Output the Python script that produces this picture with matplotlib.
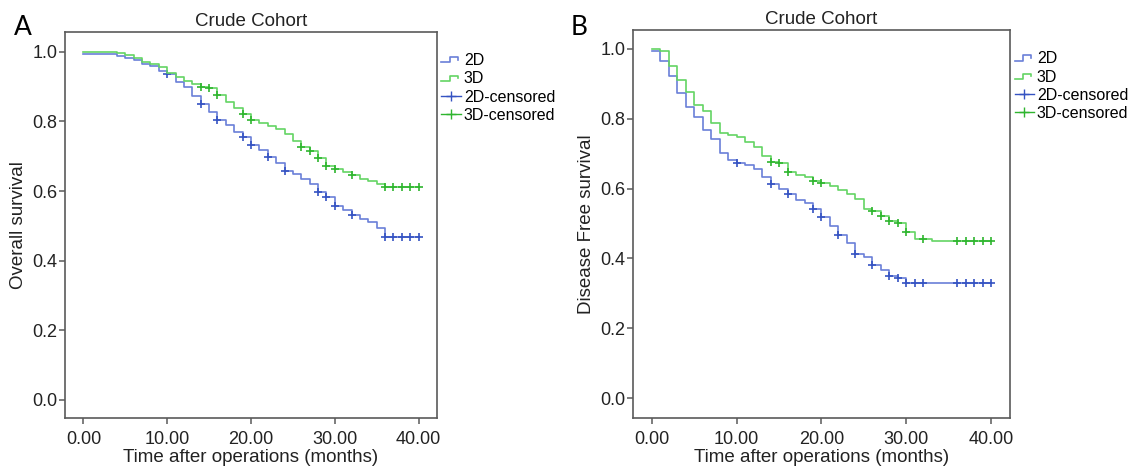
import numpy as np
import matplotlib
matplotlib.use("Agg")
import matplotlib.pyplot as plt
from matplotlib.lines import Line2D
from matplotlib.legend_handler import HandlerBase

plt.rcParams['font.family'] = ['Liberation Sans', 'DejaVu Sans']

# Panel A - overall survival, crude cohort
a_2d_time = [0, 4, 5, 6, 7, 8, 9, 10, 11, 12, 13, 14, 15, 16, 17, 18, 19, 20,
             21, 22, 23, 24, 25, 26, 27, 28, 29, 30, 31, 32, 33, 34, 35, 36]
a_2d_surv = [0.993, 0.988, 0.983, 0.976, 0.966, 0.959, 0.945, 0.935, 0.914, 0.898,
             0.872, 0.851, 0.827, 0.805, 0.791, 0.770, 0.755, 0.733, 0.717, 0.697,
             0.680, 0.659, 0.648, 0.635, 0.620, 0.597, 0.583, 0.556, 0.545, 0.530,
             0.520, 0.510, 0.495, 0.469]
a_2d_cens = [10, 14, 16, 19, 20, 22, 24, 28, 29, 30, 32, 36, 37, 38, 39, 40]

a_3d_time = [0, 4, 5, 6, 7, 8, 9, 10, 11, 12, 13, 14, 15, 16, 17, 18, 19, 20,
             21, 22, 23, 24, 25, 26, 27, 28, 29, 30, 31, 32, 33, 34, 35, 36]
a_3d_surv = [1.000, 0.996, 0.991, 0.981, 0.970, 0.966, 0.956, 0.940, 0.927, 0.915,
             0.907, 0.900, 0.895, 0.876, 0.857, 0.840, 0.822, 0.805, 0.795, 0.787,
             0.777, 0.764, 0.744, 0.728, 0.716, 0.694, 0.673, 0.664, 0.655, 0.645,
             0.636, 0.630, 0.619, 0.611]
a_3d_cens = [14, 15, 16, 19, 20, 26, 27, 28, 29, 30, 32, 36, 37, 38, 39, 40]

# Panel B - disease free survival, crude cohort
b_2d_time = [0, 1, 2, 3, 4, 5, 6, 7, 8, 9, 10, 11, 12, 13, 14, 15, 16, 17, 18,
             19, 20, 21, 22, 23, 24, 25, 26, 27, 28, 29, 30]
b_2d_surv = [0.993, 0.964, 0.921, 0.874, 0.833, 0.806, 0.768, 0.742, 0.703, 0.683,
             0.672, 0.667, 0.657, 0.632, 0.614, 0.600, 0.583, 0.566, 0.559, 0.541,
             0.518, 0.493, 0.466, 0.443, 0.414, 0.404, 0.380, 0.368, 0.351, 0.343,
             0.329]
b_2d_cens = [10, 14, 16, 19, 20, 22, 24, 26, 28, 29, 30, 31, 32, 36, 37, 38, 39, 40]

b_3d_time = [0, 1, 2, 3, 4, 5, 6, 7, 8, 9, 10, 11, 12, 13, 14, 15, 16, 17, 18,
             19, 20, 21, 22, 23, 24, 25, 26, 27, 28, 29, 30, 31, 33]
b_3d_surv = [1.000, 0.993, 0.951, 0.911, 0.876, 0.840, 0.822, 0.788, 0.760, 0.752,
             0.748, 0.734, 0.720, 0.693, 0.677, 0.672, 0.646, 0.640, 0.633, 0.622,
             0.617, 0.607, 0.595, 0.584, 0.569, 0.542, 0.535, 0.522, 0.507, 0.500,
             0.476, 0.455, 0.451]
b_3d_cens = [14, 15, 16, 19, 20, 26, 27, 28, 29, 30, 32, 36, 37, 38, 39, 40]

x_ticks = [0, 10, 20, 30, 40]
x_ticklabels = ["0.00", "10.00", "20.00", "30.00", "40.00"]
y_ticks = [0.0, 0.2, 0.4, 0.6, 0.8, 1.0]
end_time = 40

blue_line = '#6a7fd8'
blue_mark = '#3553c2'
green_line = '#64d464'
green_mark = '#2fb52f'
frame_col = '#5a5a5a'


# legend symbol: small step line like the SPSS one
class StepHandler(HandlerBase):
    def create_artists(self, legend, orig_handle, xdescent, ydescent,
                       width, height, fontsize, trans):
        xs = np.array([0.0, 0.45, 0.45, 0.85, 0.85]) * width - xdescent
        ys = np.array([0.25, 0.25, 0.7, 0.7, 0.45]) * height - ydescent
        ln = Line2D(xs, ys, color=orig_handle.get_color(), lw=1.2)
        ln.set_transform(trans)
        return [ln]


def draw_km(ax, times, surv, cens, lcol, mcol):
    t = list(times) + [end_time]
    s = list(surv) + [surv[-1]]
    ax.step(t, s, where='post', color=lcol, lw=1.2)
    idx = np.searchsorted(times, cens, side='right') - 1
    cs = [surv[i] for i in idx]
    ax.plot(cens, cs, '+', color=mcol, ms=5.5, mew=1.2)


def setup_axes(ax, ylabel, ylim):
    ax.set_xlim(-2.2, 42.2)
    ax.set_ylim(*ylim)
    ax.set_xticks(x_ticks)
    ax.set_xticklabels(x_ticklabels)
    ax.set_yticks(y_ticks)
    ax.set_yticklabels([f"{v:.1f}" for v in y_ticks])
    ax.tick_params(axis='x', labelsize=13, length=4, width=1.1, color=frame_col,
                   pad=5, labelcolor='#222222')
    ax.tick_params(axis='y', labelsize=13, length=4, width=1.1, color=frame_col,
                   pad=1.5, labelcolor='#222222')
    for sp in ax.spines.values():
        sp.set_color(frame_col)
        sp.set_linewidth(1.2)
    ax.set_xlabel("Time after operations (months)", fontsize=13.5, labelpad=1,
                  color='#222222')
    ax.set_ylabel(ylabel, fontsize=13.5, labelpad=4, color='#222222')
    ax.set_title("Crude Cohort", fontsize=13.5, pad=4, color='#222222')

    handles = [Line2D([], [], color=blue_line), Line2D([], [], color=green_line),
               Line2D([], [], color=blue_mark, marker='+', lw=1.0, ms=7),
               Line2D([], [], color=green_mark, marker='+', lw=1.0, ms=7)]
    labels = ["2D", "3D", "2D-censored", "3D-censored"]
    hmap = {handles[0]: StepHandler(), handles[1]: StepHandler()}
    ax.legend(handles, labels, handler_map=hmap, loc='upper left',
              bbox_to_anchor=(1.012, 0.945), frameon=False, fontsize=11.5,
              handlelength=1.2, handletextpad=0.2, labelspacing=0.2,
              borderpad=0, borderaxespad=0)


fig = plt.figure(figsize=(11.36, 4.67), dpi=100)
ax_a = fig.add_axes([0.0572, 0.1049, 0.3275, 0.8266])
ax_b = fig.add_axes([0.5572, 0.1049, 0.3319, 0.8309])

draw_km(ax_a, a_2d_time, a_2d_surv, a_2d_cens, blue_line, blue_mark)
draw_km(ax_a, a_3d_time, a_3d_surv, a_3d_cens, green_line, green_mark)
setup_axes(ax_a, "Overall survival", (-0.052, 1.057))

draw_km(ax_b, b_2d_time, b_2d_surv, b_2d_cens, blue_line, blue_mark)
draw_km(ax_b, b_3d_time, b_3d_surv, b_3d_cens, green_line, green_mark)
setup_axes(ax_b, "Disease Free survival", (-0.057, 1.054))

fig.text(0.012, 0.925, "A", fontsize=19, family=['Lato', 'DejaVu Sans'])
fig.text(0.502, 0.925, "B", fontsize=19, family=['Lato', 'DejaVu Sans'])

fig.savefig("out.png", dpi=100)
